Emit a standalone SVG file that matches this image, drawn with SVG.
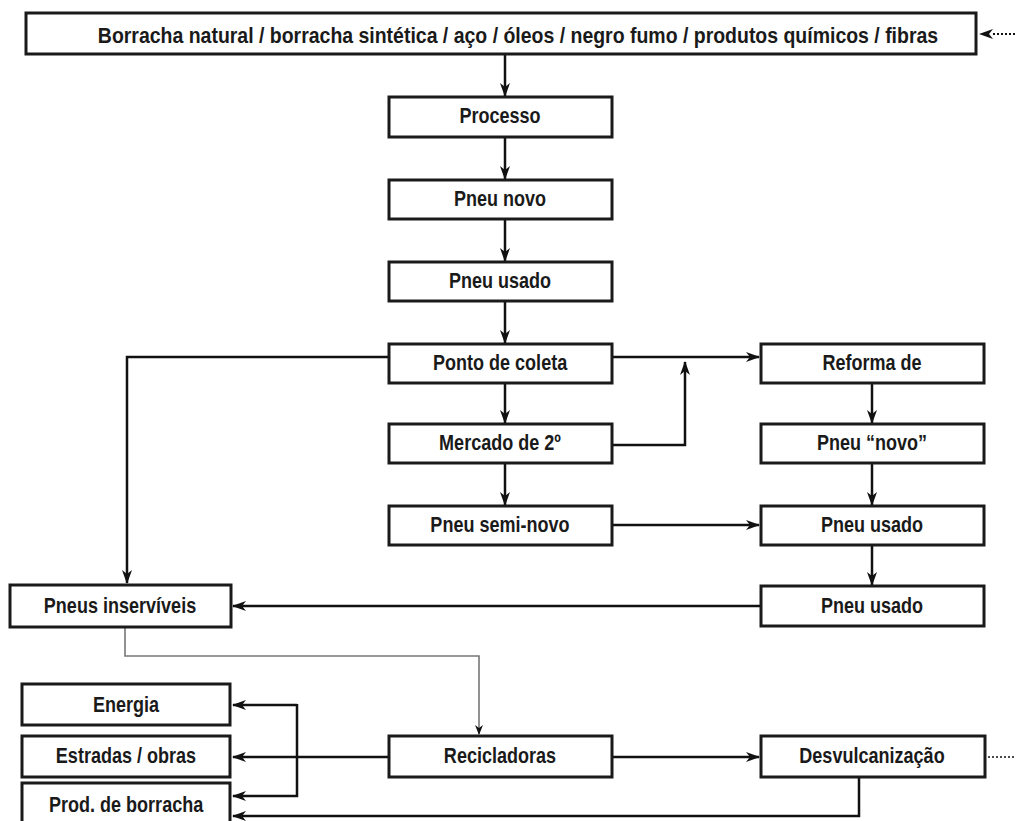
<svg xmlns="http://www.w3.org/2000/svg" width="1017" height="821" viewBox="0 0 1017 821">
<defs>
<marker id="ah" viewBox="0 0 14 10" refX="13" refY="5" markerWidth="14" markerHeight="10" markerUnits="userSpaceOnUse" orient="auto">
<path d="M0,0 L14,5 L0,10 L4,5 Z" fill="#111"/>
</marker>
<marker id="ahs" viewBox="0 0 10 8" refX="9" refY="4" markerWidth="10" markerHeight="8" markerUnits="userSpaceOnUse" orient="auto">
<path d="M0,0 L10,4 L0,8 L3,4 Z" fill="#111"/>
</marker>
</defs>
<style>
rect{fill:#fff;stroke:#1a1a1a;stroke-width:3}
text{font-family:"Liberation Sans",Arial,sans-serif;font-weight:bold;font-size:22px;fill:#1a1a1a;text-anchor:middle;dominant-baseline:central;transform-box:fill-box;transform-origin:center;transform:scaleX(0.82)}
text.w{transform:scaleX(0.885)}
.c{fill:none;stroke:#111;stroke-width:2.5}
.g{fill:none;stroke:#777;stroke-width:1.6}
.d{fill:none;stroke:#111;stroke-width:2;stroke-dasharray:2 2}
</style>
<rect width="1017" height="821" style="fill:#fff;stroke:none"/>
<g id="connectors">
<path class="c" d="M505,54 V96" marker-end="url(#ah)"/>
<path class="c" d="M505,137 V179" marker-end="url(#ah)"/>
<path class="c" d="M505,219 V261" marker-end="url(#ah)"/>
<path class="c" d="M505,301 V343" marker-end="url(#ah)"/>
<path class="c" d="M505,383 V423" marker-end="url(#ah)"/>
<path class="c" d="M505,463 V505" marker-end="url(#ah)"/>
<path class="c" d="M389,357 H127 V583" marker-end="url(#ah)"/>
<path class="c" d="M612,357 H759" marker-end="url(#ah)"/>
<path class="c" d="M612,445 H685 V362" marker-end="url(#ah)"/>
<path class="c" d="M612,525 H759" marker-end="url(#ah)"/>
<path class="c" d="M872,383 V423" marker-end="url(#ah)"/>
<path class="c" d="M872,463 V505" marker-end="url(#ah)"/>
<path class="c" d="M872,545 V585" marker-end="url(#ah)"/>
<path class="c" d="M761,606 H233" marker-end="url(#ah)"/>
<path class="g" d="M125,622 V656 H479 V734" marker-end="url(#ahs)"/>
<path class="c" d="M389,757 H233" marker-end="url(#ah)"/>
<path class="c" d="M297,705 H233" marker-end="url(#ah)"/>
<path class="c" d="M297,704 V796 H233" marker-end="url(#ah)"/>
<path class="c" d="M612,757 H759" marker-end="url(#ah)"/>
<path class="c" d="M859,777 V816 H233" marker-end="url(#ah)"/>
<path class="d" d="M1015,34 H993"/>
<path d="M979,34 L993,29 L989,34 L993,39 Z" fill="#111"/>
<path class="d" d="M988,757 H1015" style="stroke-width:1.5"/>
</g>
<g id="n-top"><rect x="26" y="13" width="950" height="41"/><text class="w" x="518" y="35">Borracha natural / borracha sintética / aço / óleos / negro fumo / produtos químicos / fibras</text></g>
<g id="n-processo"><rect x="389" y="97" width="223" height="40"/><text x="500" y="115.5">Processo</text></g>
<g id="n-pneunovo"><rect x="389" y="180" width="223" height="39"/><text x="500" y="198">Pneu novo</text></g>
<g id="n-pneuusado"><rect x="389" y="262" width="223" height="39"/><text x="500" y="280">Pneu usado</text></g>
<g id="n-ponto"><rect x="389" y="344" width="223" height="39"/><text x="500" y="362">Ponto de coleta</text></g>
<g id="n-mercado"><rect x="389" y="424" width="223" height="39"/><text x="500" y="442">Mercado de 2º</text></g>
<g id="n-seminovo"><rect x="389" y="506" width="223" height="39"/><text x="500" y="524">Pneu semi-novo</text></g>
<g id="n-reforma"><rect x="761" y="344" width="223" height="39"/><text x="872" y="362">Reforma de</text></g>
<g id="n-novo"><rect x="761" y="424" width="223" height="39"/><text x="872" y="442">Pneu “novo”</text></g>
<g id="n-usado2"><rect x="761" y="506" width="223" height="39"/><text x="872" y="524">Pneu usado</text></g>
<g id="n-usado3"><rect x="761" y="586" width="223" height="40"/><text x="872" y="605">Pneu usado</text></g>
<g id="n-inserviveis"><rect x="10" y="585" width="221" height="42"/><text x="120" y="605">Pneus inservíveis</text></g>
<g id="n-energia"><rect x="22" y="684" width="208" height="41"/><text x="126" y="704">Energia</text></g>
<g id="n-estradas"><rect x="22" y="736" width="208" height="41"/><text x="126" y="755">Estradas / obras</text></g>
<g id="n-prod"><rect x="22" y="783" width="208" height="45"/><text x="126" y="804.5">Prod. de borracha</text></g>
<g id="n-recicladoras"><rect x="389" y="736" width="223" height="41"/><text x="500" y="755">Recicladoras</text></g>
<g id="n-desv"><rect x="761" y="736" width="224" height="41"/><text x="872" y="755">Desvulcanização</text></g>
</svg>
